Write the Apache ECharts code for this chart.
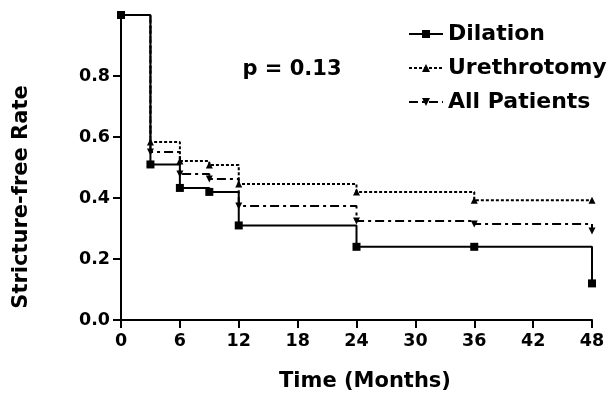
<!DOCTYPE html>
<html>
<head>
<meta charset="utf-8">
<script src="https://cdn.jsdelivr.net/npm/echarts@6/dist/echarts.min.js"></script>
<style>html,body{margin:0;padding:0;background:#fff}#c{width:609px;height:396px}</style>
</head>
<body>
<div id="c"></div>
<script>
var times = [0, 3, 6, 9, 12, 24, 36, 48];
var dilation = [1.0, 0.51, 0.433, 0.42, 0.31, 0.24, 0.24, 0.12];
var urethrotomy = [1.0, 0.584, 0.521, 0.508, 0.446, 0.42, 0.393, 0.393];
var allPatients = [1.0, 0.551, 0.479, 0.462, 0.374, 0.325, 0.315, 0.292];
var seriesNames = ['Dilation', 'Urethrotomy', 'All Patients'];
var yTicks = [0, 0.2, 0.4, 0.6, 0.8];
var xTicks = [0, 6, 12, 18, 24, 30, 36, 42, 48];

function pairs(vals){ return times.map(function(t,i){ return [t, vals[i]]; }); }
var FONT = 'DejaVu Sans';
var chart = echarts.init(document.getElementById('c'), null, {renderer:'canvas'});
chart.setOption({
  animation: false,
  backgroundColor: '#fff',
  grid: {left: 121, right: 17, top: 15, bottom: 76, containLabel: false, outerBoundsMode: 'none'},
  legend: {
    orient: 'vertical', left: 403, top: 18, itemWidth: 34, itemHeight: 10, itemGap: 12,
    data: seriesNames,
    textStyle: {fontFamily: FONT, fontWeight: 'bold', fontSize: 22, color: '#000', lineHeight: 22}
  },
  xAxis: {
    type: 'value', min: 0, max: 48, interval: 6,
    axisLine: {lineStyle: {color: '#000', width: 2}},
    axisTick: {show: true, length: 8, lineStyle: {color: '#000', width: 2}, customValues: xTicks},
    axisLabel: {color: '#000', fontFamily: FONT, fontWeight: 'bold', fontSize: 17.5, margin: 12, customValues: xTicks},
    splitLine: {show: false}
  },
  yAxis: {
    type: 'value', min: 0, max: 1.0, interval: 0.2,
    axisLine: {show: true, lineStyle: {color: '#000', width: 2}},
    axisTick: {show: true, length: 8, lineStyle: {color: '#000', width: 2}, customValues: yTicks},
    axisLabel: {color: '#000', fontFamily: FONT, fontWeight: 'bold', fontSize: 17.5, margin: 11,
      customValues: yTicks, formatter: function(v){ return v.toFixed(1); }},
    splitLine: {show: false}
  },
  graphic: [
    {type: 'text', x: 22, y: 197, rotation: Math.PI/2,
     style: {text: 'Stricture-free Rate', font: 'bold 21px "DejaVu Sans"', fill: '#000', textAlign: 'center', textVerticalAlign: 'middle'}},
    {type: 'text', x: 365, y: 382,
     style: {text: 'Time (Months)', font: 'bold 21px "DejaVu Sans"', fill: '#000', textAlign: 'center', textVerticalAlign: 'middle'}},
    {type: 'text', x: 292, y: 70,
     style: {text: 'p = 0.13', font: 'bold 21px "DejaVu Sans"', fill: '#000', textAlign: 'center', textVerticalAlign: 'middle'}}
  ],
  series: [
    {name: seriesNames[0], type: 'line', step: 'end', data: pairs(dilation), z: 5,
     symbol: 'rect', symbolSize: 8, itemStyle: {color: '#000'},
     lineStyle: {color: '#000', width: 2, type: 'solid'}},
    {name: seriesNames[1], type: 'line', step: 'end', data: pairs(urethrotomy), z: 3,
     symbol: 'triangle', symbolSize: 7, itemStyle: {color: '#000'},
     lineStyle: {color: '#000', width: 2, type: [3, 2]}},
    {name: seriesNames[2], type: 'line', step: 'end', data: pairs(allPatients), z: 4,
     symbol: 'triangle', symbolRotate: 180, symbolSize: 7, itemStyle: {color: '#000'},
     lineStyle: {color: '#000', width: 2, type: [9, 4, 3, 4]}}
  ]
});
</script>
</body>
</html>
